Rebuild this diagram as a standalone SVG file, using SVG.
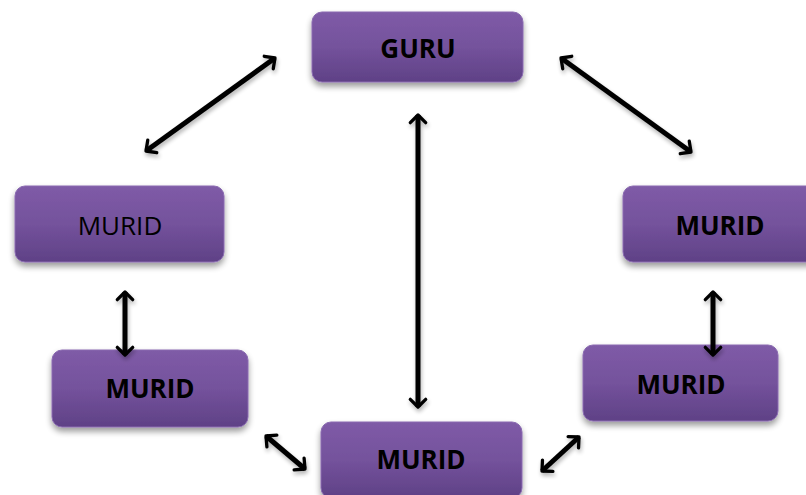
<svg xmlns="http://www.w3.org/2000/svg" width="806" height="495" viewBox="0 0 806 495">
<style>
.box{fill:url(#g);stroke:#8a6bb0;stroke-width:1;filter:url(#sh)}
.t{font-family:"Open Sans","Liberation Sans",sans-serif;font-size:26px;fill:#000;text-anchor:middle;dominant-baseline:central}
.b{font-weight:bold}
.c{stroke:#000;stroke-width:5;fill:none;marker-start:url(#ah);marker-end:url(#ah)}
</style>
<defs>
<linearGradient id="g" x1="0" y1="0" x2="0" y2="1">
<stop offset="0" stop-color="#7f5ba7"/>
<stop offset="0.5" stop-color="#74529c"/>
<stop offset="1" stop-color="#5f4186"/>
</linearGradient>
<filter id="sh" x="-10%" y="-10%" width="120%" height="140%">
<feGaussianBlur in="SourceAlpha" stdDeviation="3"/>
<feOffset dx="0" dy="4"/>
<feComponentTransfer><feFuncA type="linear" slope="0.4"/></feComponentTransfer>
<feMerge><feMergeNode/><feMergeNode in="SourceGraphic"/></feMerge>
</filter>
<filter id="sh2" filterUnits="userSpaceOnUse" x="0" y="0" width="806" height="495">
<feGaussianBlur in="SourceAlpha" stdDeviation="2"/>
<feOffset dx="1" dy="3"/>
<feComponentTransfer><feFuncA type="linear" slope="0.3"/></feComponentTransfer>
<feMerge><feMergeNode/><feMergeNode in="SourceGraphic"/></feMerge>
</filter>
<marker id="ah" viewBox="-10 -10 20 20" markerWidth="4.4" markerHeight="4.4" refX="0" refY="0" orient="auto-start-reverse" markerUnits="strokeWidth">
<path d="M-7,-7 L0,0 L-7,7" fill="none" stroke="#000" stroke-width="3" stroke-linecap="round" stroke-linejoin="round"/>
</marker>
</defs>
<g id="guru"><rect class="box" x="312" y="12" width="211" height="70" rx="10"/><text class="t b" x="418" y="48">GURU</text></g>
<g id="murid-left-top"><rect class="box" x="15" y="186" width="209" height="76" rx="10"/><text class="t" x="120" y="225">MURID</text></g>
<g id="murid-right-top"><rect class="box" x="623" y="186" width="195" height="76" rx="10"/><text class="t b" x="720" y="225">MURID</text></g>
<g id="murid-left-bottom"><rect class="box" x="52" y="350" width="196" height="77" rx="10"/><text class="t b" x="150" y="388">MURID</text></g>
<g id="murid-right-bottom"><rect class="box" x="583" y="345" width="195" height="76" rx="10"/><text class="t b" x="681" y="384">MURID</text></g>
<g id="murid-bottom"><rect class="box" x="321" y="422" width="201" height="76" rx="10"/><text class="t b" x="421" y="459">MURID</text></g>
<g id="connectors" filter="url(#sh2)">
<line class="c" x1="146" y1="151" x2="275" y2="58"/>
<line class="c" x1="561" y1="58" x2="691" y2="152"/>
<line class="c" x1="418" y1="115" x2="418" y2="407"/>
<line class="c" x1="125" y1="292" x2="125" y2="355"/>
<line class="c" x1="713" y1="292" x2="713" y2="355"/>
<line class="c" x1="266" y1="436" x2="305" y2="469"/>
<line class="c" x1="579" y1="437" x2="542" y2="471"/>
</g>
</svg>
